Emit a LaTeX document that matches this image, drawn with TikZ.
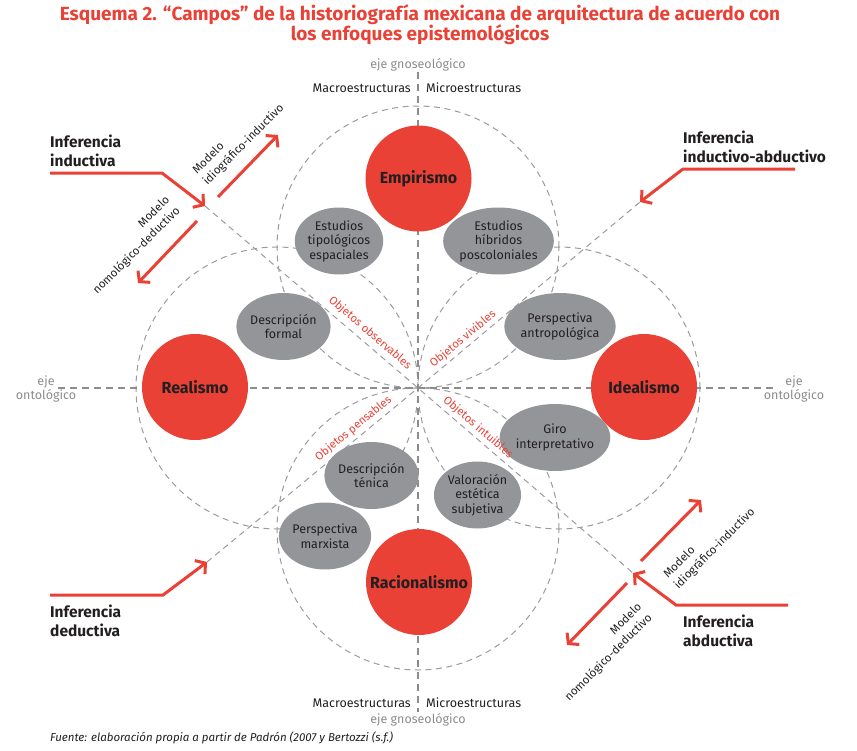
\documentclass[tikz,border=0pt]{standalone}
\usepackage{fontspec}
\setmainfont{Fira Sans}
\usetikzlibrary{arrows.meta,shapes.geometric}
\definecolor{myred}{RGB}{233,65,54}
\definecolor{ellgray}{RGB}{147,149,152}
\definecolor{dashgray}{RGB}{155,155,155}
\definecolor{axgray}{RGB}{140,140,140}
\definecolor{txtdark}{RGB}{35,31,32}
\begin{document}
\begin{tikzpicture}[x=1pt,y=-1pt,
  guidecircle/.style={circle, draw=dashgray, line width=1pt, dash pattern=on 6pt off 4.5pt, minimum size=282pt, inner sep=0},
  guide/.style={dashgray, line width=1pt, dash pattern=on 6pt off 4.5pt},
  axisline/.style={axgray, line width=1.7pt, dash pattern=on 7pt off 5pt},
  field/.style={circle, fill=myred, minimum size=106pt, inner sep=0, text=txtdark, font=\fontsize{16}{18}\selectfont\bfseries},
  subfield/.style={ellipse, fill=ellgray, minimum width=87pt, minimum height=67pt, inner sep=0, align=center, text=txtdark, font=\fontsize{12.5}{14.5}\selectfont},
  objlabel/.style={text=myred, font=\fontsize{11.3}{13}\selectfont, inner sep=0},
  modlabel/.style={text=txtdark, font=\fontsize{11.5}{15}\selectfont, rotate=45, inner sep=0},
  inflabel/.style={text=txtdark, font=\fontsize{15.5}{18.5}\selectfont\bfseries, align=left, anchor=north west, inner sep=0},
  axlabel/.style={text=axgray, font=\fontsize{12.5}{13.5}\selectfont, inner sep=0, align=center},
  structlabel/.style={text=txtdark, font=\fontsize{12.5}{14}\selectfont, inner sep=0},
  redarrow/.style={myred, line width=3pt, -{Straight Barb[length=7pt,width=17pt]}}
]
\useasboundingbox (0,0) rectangle (857,750);

% title
\node[text=myred, font=\fontsize{19}{20.5}\selectfont\bfseries, align=center, anchor=north, inner sep=0] (title) at (420,4)
  {Esquema 2. “Campos” de la historiografía mexicana de arquitectura de acuerdo con\\los enfoques epistemológicos};

% reference coordinates
\coordinate (C) at (418,388);
\coordinate (dNW) at (205,206);
\coordinate (dSE) at (633,573);
\coordinate (dNE) at (640,202);
\coordinate (dSW) at (207,562);
\coordinate (hL) at (58,388);
\coordinate (hR) at (777,388);
\coordinate (vT) at (418,72);
\coordinate (vB) at (418,712);

% guide circles
\node[guidecircle] (gTop) at (418,247) {};
\node[guidecircle] (gBot) at (418,529) {};
\node[guidecircle] (gLeft) at (277,388) {};
\node[guidecircle] (gRight) at (559,388) {};

% diagonals and axes
\draw[guide] (dNW) -- (C) -- (dSE);
\draw[guide] (dSW) -- (C) -- (dNE);
\draw[axisline] (hL) -- (hR);
\draw[axisline] (vT) -- (vB);

% gray fields
\node[subfield] (e1) at (339,241) {Estudios\\tipológicos\\espaciales};
\node[subfield] (e2) at (498.5,241) {Estudios\\híbridos\\poscoloniales};
\node[subfield] (e3) at (283.5,326.5) {Descripción\\formal};
\node[subfield] (e4) at (560,326.5) {Perspectiva\\antropológica};
\node[subfield] (e5) at (555,437.5) {Giro\\interpretativo};
\node[subfield] (e6) at (477.5,495) {Valoración\\estética\\subjetiva};
\node[subfield] (e7) at (371.5,475.5) {Descripción\\ténica};
\node[subfield] (e8) at (325,536) {Perspectiva\\marxista};

% objetos labels
\node[objlabel, rotate=-40.6] (obs) at (370,333) {Objetos observables};
\node[objlabel, rotate=39.7] (viv) at (463,339) {Objetos vivibles};
\node[objlabel, rotate=39.5] (pen) at (353.5,428.5) {Objetos pensables};
\node[objlabel, rotate=-40.6] (int) at (478,427.5) {Objetos intuibles};

% red fields
\node[field] (emp) at (418.5,178.5) {Empirismo};
\node[field] (rea) at (195,387) {Realismo};
\node[field] (ide) at (644,387) {Idealismo};
\node[field] (rac) at (419,582) {Racionalismo};

% axis labels
\node[axlabel] (gnT) at (418,65) {eje gnoseológico};
\node[axlabel] (gnB) at (418,720) {eje gnoseológico};
\node[axlabel] (onL) at (46,389) {eje\\ontológico};
\node[axlabel] (onR) at (794,389) {eje\\ontológico};
\node[structlabel, anchor=east] (maT) at (411,88) {Macroestructuras};
\node[structlabel, anchor=west] (miT) at (426,88) {Microestructuras};
\node[structlabel, anchor=east] (maB) at (411,703) {Macroestructuras};
\node[structlabel, anchor=west] (miB) at (426,703) {Microestructuras};

% inference arrows
\coordinate (iiS) at (50,173);
\coordinate (iiK) at (162,173);
\coordinate (iaS) at (795,169);
\coordinate (iaK) at (683,169);
\coordinate (idS) at (50,595);
\coordinate (idK) at (163,595);
\coordinate (abS) at (788,605);
\coordinate (abK) at (676,605);
\draw[redarrow] (iiS) -- (iiK) -- (dNW);
\draw[redarrow] (iaS) -- (iaK) -- (dNE);
\draw[redarrow] (idS) -- (idK) -- (dSW);
\draw[redarrow] (abS) -- (abK) -- (dSE);

% model arrows
\coordinate (m1a) at (218,197);
\coordinate (m1b) at (278,135);
\coordinate (m2a) at (197,221);
\coordinate (m2b) at (138,283);
\coordinate (m3a) at (641,561);
\coordinate (m3b) at (701,500);
\coordinate (m4a) at (627,583);
\coordinate (m4b) at (567,645);
\draw[redarrow] (m1a) -- (m1b);
\draw[redarrow] (m2a) -- (m2b);
\draw[redarrow] (m3a) -- (m3b);
\draw[redarrow] (m4a) -- (m4b);

% model labels
\node[modlabel, align=left] (ml1) at (238.5,139.5) {Modelo\\idiográfico-inductivo};
\node[modlabel, align=right] (ml2) at (131.5,245.5) {Modelo\\nomológico-deductivo};
\node[modlabel, align=left] (ml3) at (709.5,543.5) {Modelo\\idiográfico-inductivo};
\node[modlabel, align=right] (ml4) at (603.5,652.5) {Modelo\\nomológico-deductivo};

% inference labels
\node[inflabel] (infI) at (50,135) {Inferencia\\inductiva};
\node[inflabel] (infIA) at (683,131) {Inferencia\\inductivo-abductivo};
\node[inflabel] (infD) at (50,605) {Inferencia\\deductiva};
\node[inflabel] (infA) at (683,615) {Inferencia\\abductiva};

% source
\node[text=txtdark, font=\fontsize{11.5}{13}\selectfont\itshape, anchor=west, inner sep=0] (src) at (50,738)
  {Fuente: elaboración propia a partir de Padrón (2007 y Bertozzi (s.f.)};
\end{tikzpicture}
\end{document}
